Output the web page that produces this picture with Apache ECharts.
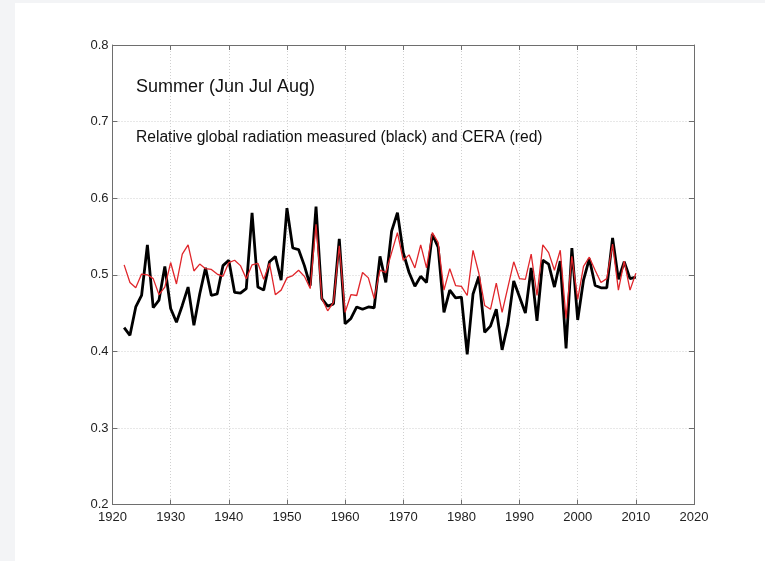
<!DOCTYPE html>
<html>
<head>
<meta charset="utf-8">
<script src="https://cdn.jsdelivr.net/npm/echarts@6/dist/echarts.min.js"></script>
<style>
html,body{margin:0;padding:0;background:#f3f4f6;width:765px;height:561px;overflow:hidden;}
#chart{position:absolute;left:15px;top:3px;width:750px;height:558px;background:#fff;}
</style>
</head>
<body>
<div id="chart"></div>
<script>
var years = [];
for (var y = 1922; y <= 2010; y++) years.push(y);

var measured = [
 0.431,0.421,0.458,0.473,0.539,0.457,0.467,0.511,0.456,0.438,
 0.460,0.484,0.434,0.475,0.509,0.473,0.475,0.512,0.519,0.477,
 0.476,0.482,0.581,0.484,0.480,0.517,0.524,0.493,0.587,0.535,
 0.533,0.512,0.486,0.589,0.469,0.459,0.462,0.547,0.436,0.443,
 0.458,0.455,0.458,0.457,0.524,0.490,0.557,0.581,0.529,0.503,
 0.485,0.498,0.490,0.553,0.536,0.451,0.480,0.470,0.471,0.396,
 0.475,0.498,0.425,0.433,0.455,0.402,0.436,0.492,0.471,0.450,
 0.509,0.440,0.519,0.514,0.484,0.518,0.404,0.535,0.441,0.493,
 0.521,0.486,0.483,0.483,0.548,0.494,0.517,0.495,0.497
];
var cera = [
 0.513,0.490,0.483,0.501,0.500,0.495,0.474,0.484,0.516,0.488,
 0.527,0.539,0.505,0.514,0.508,0.507,0.501,0.498,0.516,0.519,
 0.512,0.495,0.513,0.515,0.494,0.515,0.474,0.480,0.496,0.499,
 0.506,0.498,0.482,0.566,0.469,0.453,0.464,0.538,0.451,0.474,
 0.473,0.503,0.496,0.469,0.506,0.503,0.529,0.555,0.519,0.526,
 0.509,0.539,0.509,0.555,0.542,0.480,0.508,0.486,0.485,0.473,
 0.532,0.502,0.460,0.455,0.489,0.451,0.484,0.517,0.495,0.494,
 0.527,0.473,0.539,0.529,0.506,0.532,0.443,0.524,0.468,0.511,
 0.523,0.506,0.490,0.495,0.540,0.480,0.518,0.480,0.502
];
var titleText = "Summer (Jun Jul Aug)";
var subtitleText = "Relative global radiation measured (black) and CERA (red)";

function pairs(vals){ return years.map(function(yr,i){ return [yr, vals[i]]; }); }

var font = "'Liberation Sans', Arial, sans-serif";
var axisLineStyle = {color:'#6e6e6e', width:1};
var gridStyle = {color:'#d0d0d0', type:[1,2], width:1};
var chart = echarts.init(document.getElementById('chart'));
chart.setOption({
  animation:false,
  backgroundColor:'#ffffff',
  title:[
    {text:titleText, left:121, top:75, padding:0, textStyle:{fontFamily:font, fontSize:18, fontWeight:'normal', color:'#111'}},
    {text:subtitleText, left:121, top:127, padding:0, textStyle:{fontFamily:font, fontSize:15.6, fontWeight:'normal', color:'#111'}}
  ],
  grid:{left:97.5, top:42, width:581.5, height:459.6, containLabel:false},
  xAxis:[
    {type:'value', min:1920, max:2020, interval:10, position:'bottom',
     axisLine:{show:true, onZero:false, lineStyle:axisLineStyle},
     axisTick:{show:true, inside:true, length:5, lineStyle:axisLineStyle},
     axisLabel:{fontFamily:font, fontSize:13, color:'#222', margin:6,
       formatter:function(v){ return String(v); }},
     splitLine:{show:true, lineStyle:gridStyle}},
    {type:'value', min:1920, max:2020, interval:10, position:'top',
     axisLine:{show:true, onZero:false, lineStyle:axisLineStyle},
     axisTick:{show:true, inside:true, length:5, lineStyle:axisLineStyle},
     axisLabel:{show:false}, splitLine:{show:false}}
  ],
  yAxis:[
    {type:'value', min:0.2, max:0.8, interval:0.1, position:'left',
     axisLine:{show:true, onZero:false, lineStyle:axisLineStyle},
     axisTick:{show:true, inside:true, length:5, lineStyle:axisLineStyle},
     axisLabel:{fontFamily:font, fontSize:13, color:'#222', margin:4,
       formatter:function(v){ return v.toFixed(1); }},
     splitLine:{show:true, lineStyle:gridStyle}},
    {type:'value', min:0.2, max:0.8, interval:0.1, position:'right',
     axisLine:{show:true, onZero:false, lineStyle:axisLineStyle},
     axisTick:{show:true, inside:true, length:5, lineStyle:axisLineStyle},
     axisLabel:{show:false}, splitLine:{show:false}}
  ],
  series:[
    {type:'line', name:'CERA', data:pairs(cera), showSymbol:false, symbol:'none',
     lineStyle:{color:'#e0262b', width:1.3}, z:3},
    {type:'line', name:'measured', data:pairs(measured), showSymbol:false, symbol:'none',
     lineStyle:{color:'#000000', width:2.8}, z:2}
  ]
});
</script>
</body>
</html>
